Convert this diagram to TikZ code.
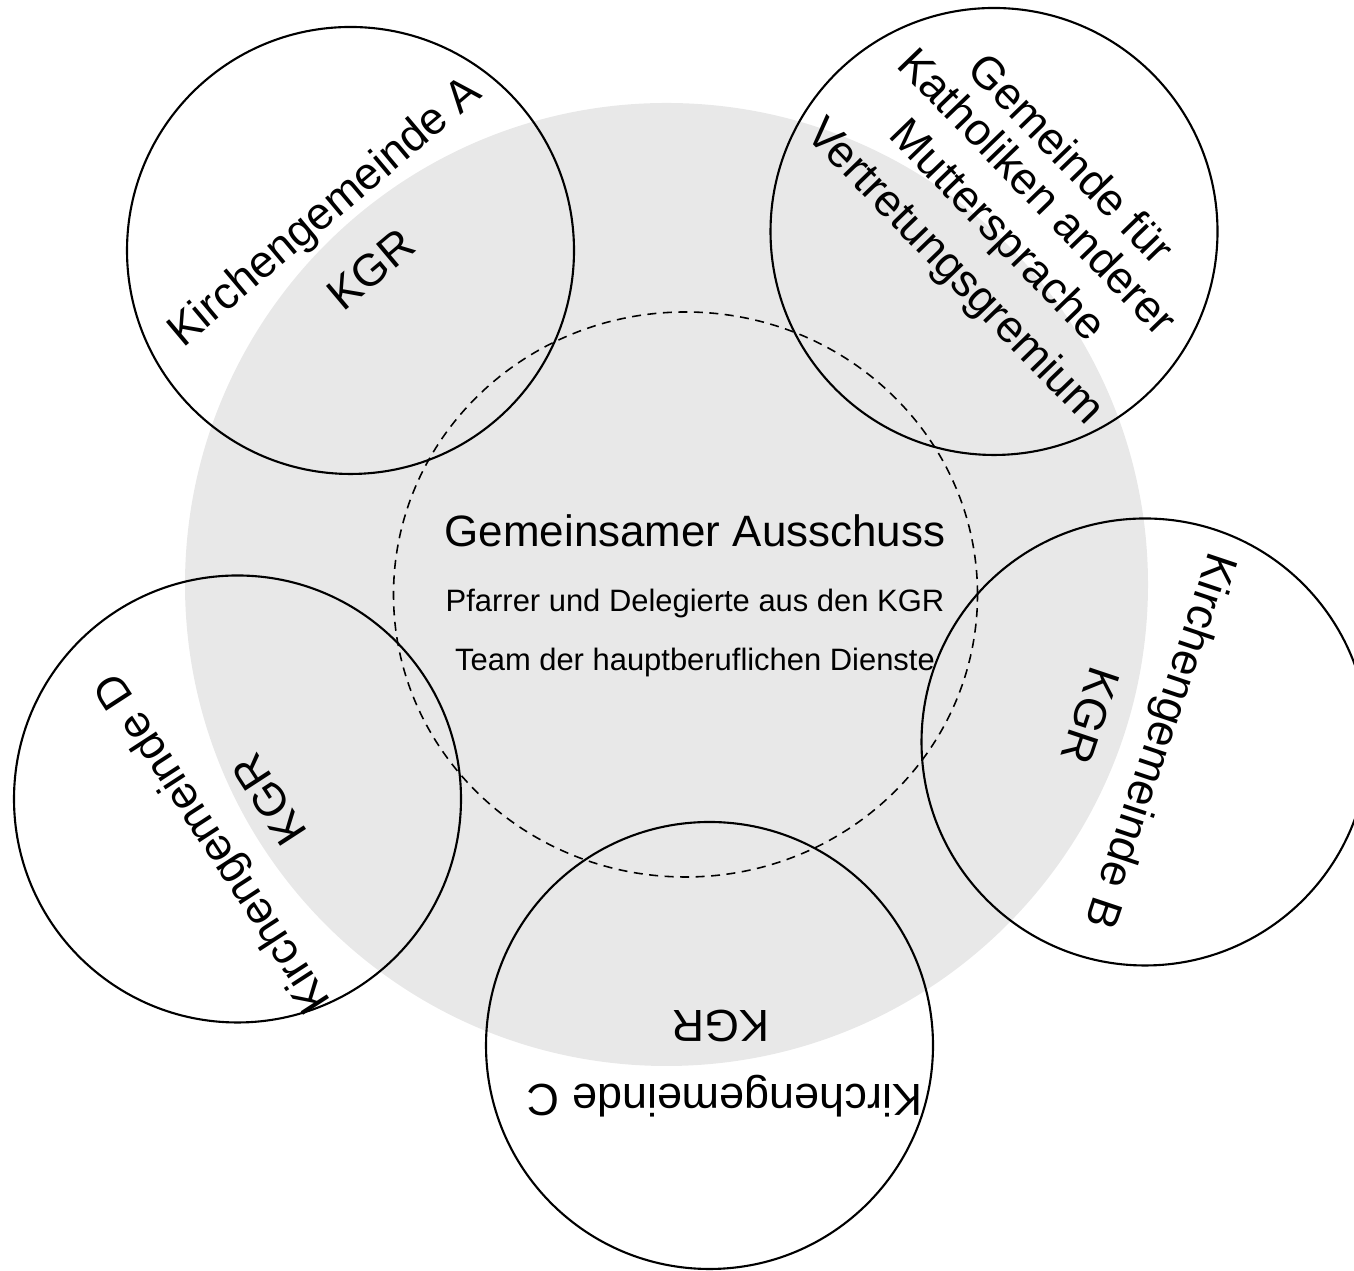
\documentclass[tikz,border=0pt]{standalone}
\usepackage{fontspec}
\setmainfont{Liberation Sans}
\usetikzlibrary{shapes.geometric}
\definecolor{ausschussgrau}{RGB}{232,232,232}

\newcommand{\zeile}[4]{%
 \node[zeile,rotate={#3}] ({#1}) at ({#2}) {#4};%
}

\begin{document}
\begin{tikzpicture}[
  gemeinde/.style={circle,draw=black,line width=0.6pt,minimum size=4.47cm,inner sep=0pt},
  zeile/.style={font=\fontsize{12.8}{15}\selectfont,inner sep=0pt,text height=9.2pt,text depth=0pt},
  klein/.style={font=\fontsize{8.8}{10}\selectfont,inner sep=0pt,anchor=base}]
  \useasboundingbox (0,0) rectangle (13.54,12.71);
  % grosser Kreis und gemeinsamer Ausschuss
  \node[circle,fill=ausschussgrau,minimum size=9.63cm,inner sep=0pt] (gemeinsam) at (6.665,6.865) {};
  \node[ellipse,draw=black,dash pattern=on 0.09cm off 0.065cm,line width=0.45pt,minimum width=5.84cm,minimum height=5.65cm,inner sep=0pt] (kern) at (6.855,6.765) {};
  \node[font=\fontsize{12.5}{15}\selectfont,inner sep=0pt,anchor=base] (titel) at (6.95,7.24) {Gemeinsamer Ausschuss};
  \node[klein] (pfarrer) at (6.95,6.59) {Pfarrer und Delegierte aus den KGR};
  \node[klein] (team) at (6.95,6.00) {Team der hauptberuflichen Dienste};
  % Gemeinden
  \node[gemeinde] (KA) at (3.505,10.205) {};
  \node[gemeinde] (MS) at (9.94,10.395) {};
  \node[gemeinde] (KB) at (11.45,5.29) {};
  \node[gemeinde] (KC) at (7.095,2.255) {};
  \node[gemeinde] (KD) at (2.375,4.72) {};
  \zeile{KA-name}{3.23,10.61}{40}{Kirchengemeinde A};
  \zeile{KA-kgr}{3.707,10.023}{40}{KGR};
  \zeile{MS-1}{10.721,11.126}{-46}{Gemeinde für};
  \zeile{MS-2}{10.385,10.801}{-46}{Katholiken anderer};
  \zeile{MS-3}{9.992,10.421}{-46}{Muttersprache};
  \zeile{MS-4}{9.571,10.014}{-46}{Vertretungsgremium};
  \zeile{KB-name}{11.627,5.293}{-108.5}{Kirchengemeinde B};
  \zeile{KB-kgr}{10.91,5.55}{-108.5}{KGR};
  \zeile{KC-name}{7.245,1.705}{180}{Kirchengemeinde C};
  \zeile{KC-kgr}{7.207,2.44}{180}{KGR};
  \zeile{KD-name}{2.107,4.26}{123}{Kirchengemeinde D};
  \zeile{KD-kgr}{2.687,4.71}{123}{KGR};
\end{tikzpicture}
\end{document}
